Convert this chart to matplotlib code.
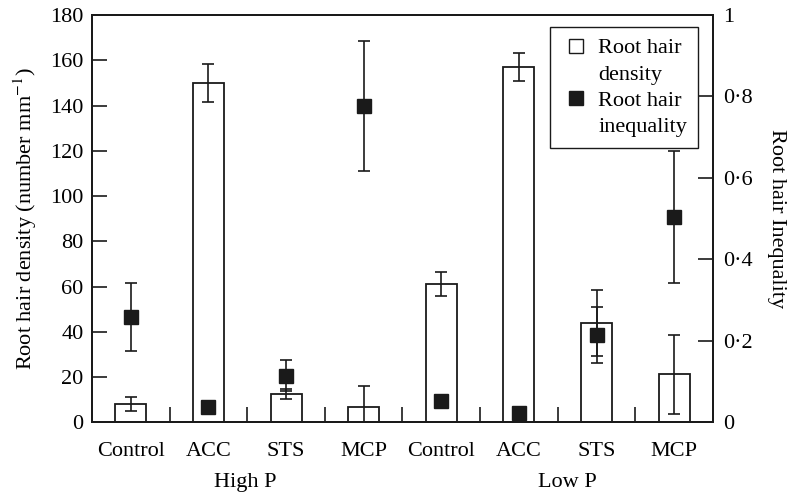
import matplotlib.pyplot as plt
from matplotlib.lines import Line2D
import numpy as np

plt.rcParams['font.family'] = ['Liberation Serif', 'DejaVu Serif']
plt.rcParams['mathtext.fontset'] = 'stix'

categories = ['Control', 'ACC', 'STS', 'MCP', 'Control', 'ACC', 'STS', 'MCP']
groups = ['High P', 'Low P']

density = [8, 150, 12.4, 6.6, 61, 157, 44, 21.2]
density_err = [3, 8.5, 2.2, 9.3, 5.4, 6.3, 14.5, 17.5]

inequality = [0.259, 0.037, 0.114, 0.777, 0.052, 0.024, 0.2145, 0.504]
inequality_err = [0.083, 0.006, 0.038, 0.16, 0.006, 0.004, 0.069, 0.163]

ink = '#1a1a1a'
x = np.arange(len(categories))

fig = plt.figure(figsize=(7.97, 4.97), dpi=100)
ax = fig.add_axes([0.1154, 0.1503, 0.7792, 0.8195])
ax2 = ax.twinx()

ax.bar(x, density, width=0.4, facecolor='white', edgecolor=ink, linewidth=1.3, zorder=2)
ax.errorbar(x, density, yerr=density_err, fmt='none', ecolor=ink, elinewidth=1.2,
            capsize=4.5, capthick=1.2, zorder=3)

ax2.errorbar(x, inequality, yerr=inequality_err, fmt='s', color=ink, ms=9.5,
             ecolor=ink, elinewidth=1.2, capsize=4.5, capthick=1.2, zorder=4)

ax.set_xlim(-0.5, 7.5)
ax.set_ylim(0, 180)
ax2.set_ylim(0, 1)

ax.set_yticks(np.arange(0, 181, 20))
ax.set_xticks(x)
ax.set_xticklabels(categories, fontsize=16)
ax.set_xticks(np.arange(0.5, 7, 1), minor=True)
ax.tick_params(axis='x', which='major', length=0, pad=14)
ax.tick_params(axis='x', which='minor', direction='in', length=11, width=1.2, color=ink)
ax.tick_params(axis='y', direction='in', length=11, width=1.2, color=ink,
               labelsize=16, pad=6)

ax2.set_yticks([0, 0.2, 0.4, 0.6, 0.8, 1])
ax2.set_yticklabels(['0', '0·2', '0·4', '0·6', '0·8', '1'])
ax2.tick_params(axis='y', direction='in', length=11, width=1.2, color=ink,
                labelsize=16, pad=7)

for a in (ax, ax2):
    for s in a.spines.values():
        s.set_linewidth(1.4)
        s.set_color(ink)

ax.set_ylabel('Root hair density (number mm$^{-1}$)', fontsize=16, labelpad=8)
ax2.set_ylabel('Root hair Inequality', fontsize=16, rotation=270, labelpad=24)

ax.text(1.47, -0.125, groups[0], transform=ax.get_xaxis_transform(),
        ha='center', va='top', fontsize=16)
ax.text(5.63, -0.125, groups[1], transform=ax.get_xaxis_transform(),
        ha='center', va='top', fontsize=16)

# marker sits beside the first line of each two-line label
blank = Line2D([], [], linestyle='none')
handles = [
    Line2D([], [], linestyle='none', marker='s', ms=10, markerfacecolor='white',
           markeredgecolor=ink, markeredgewidth=1.0),
    blank,
    Line2D([], [], linestyle='none', marker='s', ms=10, color=ink),
    blank,
]
labels = ['Root hair', 'density', 'Root hair', 'inequality']
leg = ax2.legend(handles, labels,
                 loc='upper right', bbox_to_anchor=(0.976, 0.971), borderaxespad=0,
                 fontsize=16, fancybox=False, framealpha=1, edgecolor=ink,
                 handlelength=1.3, handletextpad=0.35, borderpad=0.5,
                 labelspacing=0.25)
leg.get_frame().set_linewidth(1.0)

fig.savefig('out.png', dpi=100)
